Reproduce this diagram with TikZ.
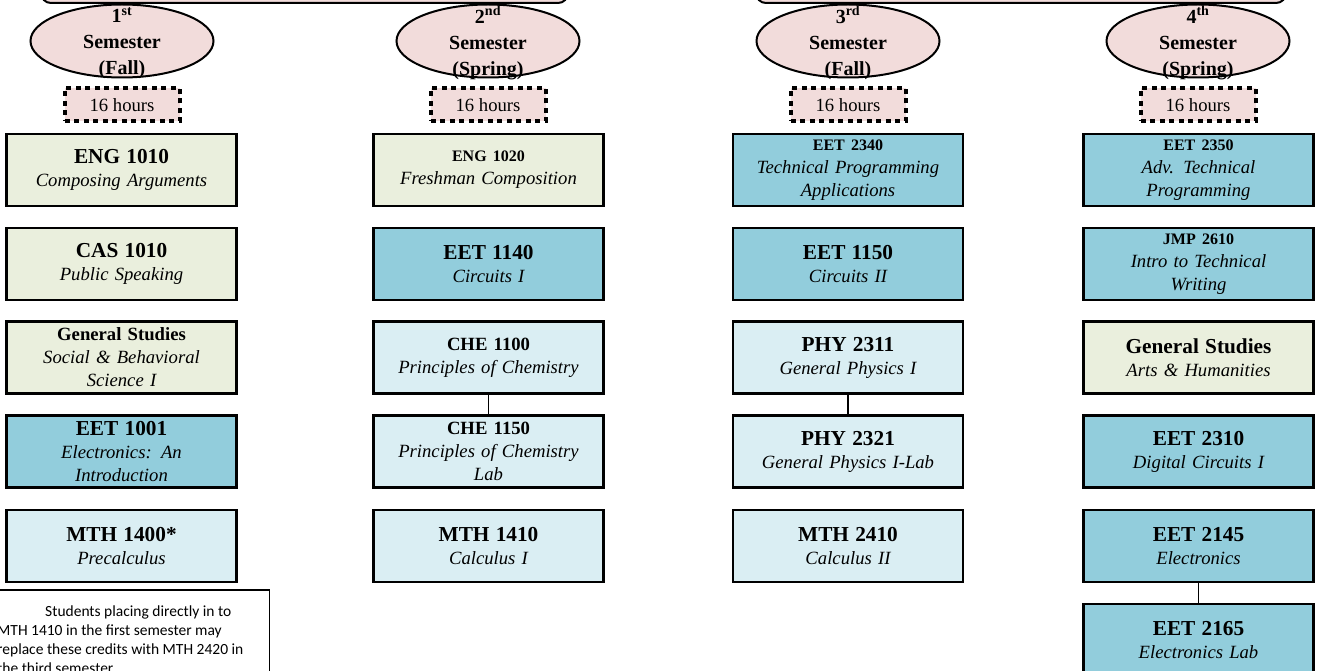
\documentclass[tikz,border=0pt]{standalone}
\usepackage{fontspec}
\setmainfont{Liberation Serif}
\newfontfamily\notefont{Carlito}
\usetikzlibrary{shapes.geometric}
\definecolor{pinkf}{HTML}{F2DCDB}
\definecolor{cgreen}{HTML}{EAEFDD}
\definecolor{cblue}{HTML}{92CDDC}
\definecolor{clight}{HTML}{DAEEF3}
\newcommand{\cc}[2]{{\fontsize{#1}{#1}\selectfont\bfseries\upshape #2}}
\tikzset{
 course/.style={draw, line width=2.2pt, minimum width=230pt, minimum height=72pt, inner sep=0pt, text width=226pt, align=center, font=\fontsize{18.67}{23}\selectfont\itshape},
 semov/.style={ellipse, draw, line width=2pt, fill=pinkf, minimum width=183pt, minimum height=73pt, inner sep=0pt},
 semtext/.style={align=center, font=\fontsize{20}{26}\selectfont\bfseries, inner sep=0pt},
 hours/.style={draw, fill=pinkf, line width=4pt, dash pattern=on 5pt off 4.5pt, minimum width=115pt, minimum height=33pt, inner sep=0pt, font=\fontsize{18.67}{20}\selectfont},
 banner/.style={draw, fill=pinkf, line width=2pt, rounded corners=10pt, inner sep=0pt, minimum height=60pt},
 link/.style={line width=1.5pt},
 notebox/.style={draw, line width=1.5pt, inner sep=0pt},
 notetext/.style={inner sep=0pt, align=left, font=\notefont\fontsize{15.5}{19}\selectfont}
}
\begin{document}
\begin{tikzpicture}[x=1pt,y=-1pt]
\useasboundingbox (0,0) rectangle (1319,671);
\clip (0,0) rectangle (1319,671);
% banners
\node[banner, minimum width=527pt, anchor=south west] (ban1) at (40,4) {};
\node[banner, minimum width=530pt, anchor=south west] (ban2) at (755,4) {};
% semesters
\foreach \n/\x in {1/122,2/488,3/848,4/1198}{
  \node[semov] (s\n) at (\x,41) {};
  \node[hours] (h\n) at (\x,105) {16 hours};
}
\node[semtext] (s1t) at (122,43) {1\textsuperscript{st}\\Semester\\(Fall)};
\node[semtext] (s2t) at (488,43) {2\textsuperscript{nd}\\Semester\\(Spring)};
\node[semtext] (s3t) at (848,43) {3\textsuperscript{rd}\\Semester\\(Fall)};
\node[semtext] (s4t) at (1198,43) {4\textsuperscript{th}\\Semester\\(Spring)};
% column 1
\node[course, fill=cgreen] (eng1010) at (121.5,170) {\cc{21.3}{ENG 1010}\\Composing Arguments};
\node[course, fill=cgreen] (cas1010) at (121.5,264) {\cc{21.3}{CAS 1010}\\Public Speaking};
\node[course, fill=cgreen] (gs1) at (121.5,357.5) {\cc{18.67}{General Studies}\\Social \& Behavioral\\Science I};
\node[course, fill=cblue] (eet1001) at (121.5,451.5) {\cc{21.3}{EET 1001}\\Electronics: An\\Introduction};
\node[course, fill=clight] (mth1400) at (121.5,546) {\cc{21.3}{MTH 1400*}\\Precalculus};
% column 2
\node[course, fill=cgreen] (eng1020) at (488.5,170) {\cc{16}{ENG 1020}\\Freshman Composition};
\node[course, fill=cblue] (eet1140) at (488.5,264) {\cc{21.3}{EET 1140}\\Circuits I};
\node[course, fill=clight] (che1100) at (488.5,357.5) {\cc{18.67}{CHE 1100}\\Principles of Chemistry};
\node[course, fill=clight] (che1150) at (488.5,451.5) {\cc{18.67}{CHE 1150}\\Principles of Chemistry\\Lab};
\node[course, fill=clight] (mth1410) at (488.5,546) {\cc{21.3}{MTH 1410}\\Calculus I};
% column 3
\node[course, fill=cblue] (eet2340) at (848,170) {\cc{16}{EET 2340}\\Technical Programming\\Applications};
\node[course, fill=cblue] (eet1150) at (848,264) {\cc{21.3}{EET 1150}\\Circuits II};
\node[course, fill=clight] (phy2311) at (848,357.5) {\cc{21.3}{PHY 2311}\\General Physics I};
\node[course, fill=clight] (phy2321) at (848,451.5) {\cc{21.3}{PHY 2321}\\General Physics I-Lab};
\node[course, fill=clight] (mth2410) at (848,546) {\cc{21.3}{MTH 2410}\\Calculus II};
% column 4
\node[course, fill=cblue] (eet2350) at (1198.5,170) {\cc{16}{EET 2350}\\Adv. Technical\\Programming};
\node[course, fill=cblue] (jmp2610) at (1198.5,264) {\cc{16}{JMP 2610}\\Intro to Technical\\Writing};
\node[course, fill=cgreen] (gs4) at (1198.5,357.5) {\cc{21.3}{General Studies}\\Arts \& Humanities};
\node[course, fill=cblue] (eet2310) at (1198.5,451.5) {\cc{21.3}{EET 2310}\\Digital Circuits I};
\node[course, fill=cblue] (eet2145) at (1198.5,546) {\cc{21.3}{EET 2145}\\Electronics};
\node[course, fill=cblue] (eet2165) at (1198.5,640) {\cc{21.3}{EET 2165}\\Electronics Lab};
% connectors
\draw[link] (che1100.south) -- (che1150.north);
\draw[link] (phy2311.south) -- (phy2321.north);
\draw[link] (eet2145.south) -- (eet2165.north);
% note
\node[notebox, anchor=north east, minimum width=300pt, minimum height=120pt] (note) at (270,589) {};
\node[notetext, anchor=north west] (notet) at (-3,606) {\hspace*{48pt}Students placing directly in to\\MTH 1410 in the first semester may\\replace these credits with MTH 2420 in\\the third semester.};
\end{tikzpicture}
\end{document}
